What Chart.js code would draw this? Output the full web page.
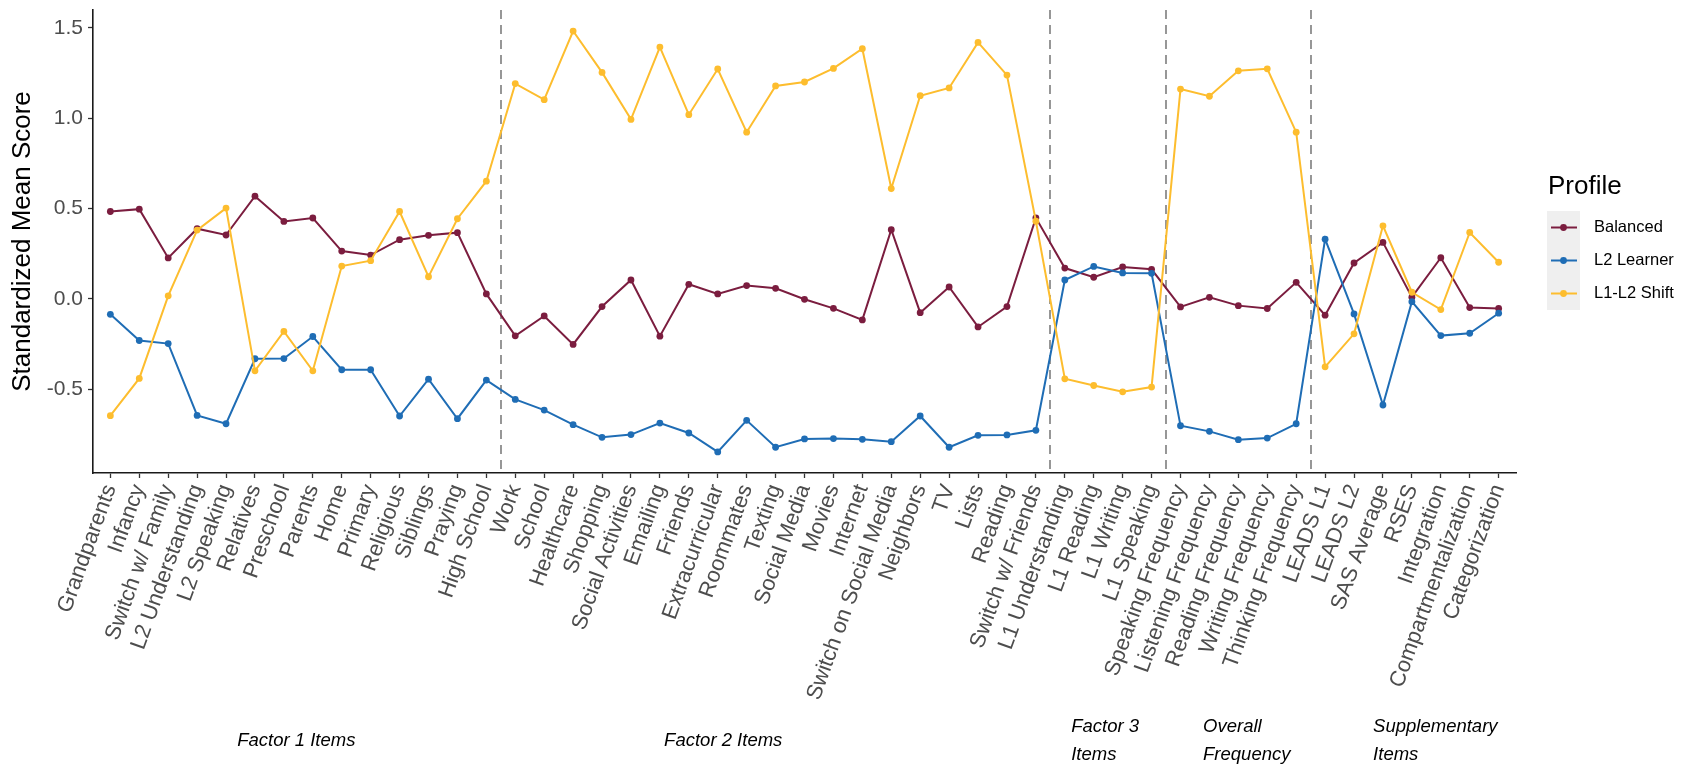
<!DOCTYPE html>
<html lang="en">

<head>
    <meta charset="UTF-8">
    <title>Standardized Mean Score by Profile</title>
    <style>
        body {
            margin: 0;
            background: #fff;
        }

        #wrap {
            width: 1684px;
            height: 769px;
        }
    </style>
</head>

<body>
    <div id="wrap">
        <canvas id="profileChart" width="1684" height="769"></canvas>
    </div>

    <script src="https://cdn.jsdelivr.net/npm/chart.js"></script>
    <script>
        // Item names, in plotting order
        const categories = [
            'Grandparents', 'Infancy', 'Switch w/ Family', 'L2 Understanding', 'L2 Speaking', 'Relatives',
            'Preschool', 'Parents', 'Home', 'Primary', 'Religious', 'Siblings', 'Praying', 'High School',
            'Work', 'School', 'Healthcare', 'Shopping', 'Social Activities', 'Emailing', 'Friends',
            'Extracurricular', 'Roommates', 'Texting', 'Social Media', 'Movies', 'Internet',
            'Switch on Social Media', 'Neighbors', 'TV', 'Lists', 'Reading', 'Switch w/ Friends',
            'L1 Understanding', 'L1 Reading', 'L1 Writing', 'L1 Speaking',
            'Speaking Frequency', 'Listening Frequency', 'Reading Frequency', 'Writing Frequency', 'Thinking Frequency',
            'LEADS L1', 'LEADS L2', 'SAS Average', 'RSES', 'Integration', 'Compartmentalization', 'Categorization'
        ];

        // Standardized mean scores per profile
        const balanced = [
            0.484, 0.497, 0.227, 0.389, 0.354, 0.569, 0.429, 0.448, 0.265, 0.243, 0.328, 0.352, 0.367, 0.028,
            -0.204, -0.094, -0.252, -0.042, 0.105, -0.206, 0.081, 0.028, 0.074, 0.059, -0.002, -0.052, -0.116,
            0.383, -0.076, 0.066, -0.155, -0.042, 0.449,
            0.171, 0.120, 0.177, 0.164,
            -0.044, 0.009, -0.037, -0.053, 0.092,
            -0.090, 0.199, 0.313, 0.010, 0.228, -0.048, -0.053
        ];
        const l2Learner = [
            -0.085, -0.230, -0.247, -0.645, -0.691, -0.331, -0.330, -0.208, -0.392, -0.392, -0.648, -0.444, -0.663, -0.449,
            -0.556, -0.615, -0.696, -0.766, -0.751, -0.687, -0.742, -0.847, -0.672, -0.821, -0.775, -0.773, -0.777,
            -0.790, -0.648, -0.821, -0.755, -0.753, -0.727,
            0.105, 0.180, 0.144, 0.142,
            -0.702, -0.733, -0.779, -0.770, -0.691,
            0.331, -0.083, -0.587, -0.015, -0.203, -0.190, -0.079
        ];
        const l1l2Shift = [
            -0.646, -0.440, 0.017, 0.381, 0.503, -0.398, -0.180, -0.398, 0.182, 0.212, 0.484, 0.123, 0.444, 0.652,
            1.192, 1.103, 1.483, 1.254, 0.994, 1.394, 1.020, 1.273, 0.923, 1.179, 1.201, 1.276, 1.385,
            0.611, 1.125, 1.168, 1.420, 1.239, 0.430,
            -0.442, -0.479, -0.514, -0.488,
            1.162, 1.122, 1.263, 1.274, 0.923,
            -0.376, -0.193, 0.405, 0.037, -0.059, 0.368, 0.203
        ];

        // Y axis ticks
        const yTicks = [-0.5, 0, 0.5, 1.0, 1.5];

        // Item groups: how many items each one holds and its caption lines
        const groupSizes = [14, 19, 4, 5, 7];
        const groupNames = [
            ['Factor 1 Items'],
            ['Factor 2 Items'],
            ['Factor 3', 'Items'],
            ['Overall', 'Frequency'],
            ['Supplementary', 'Items']
        ];

        const FONT = "'Liberation Sans', Arial, Helvetica, sans-serif";

        const toPoints = arr => arr.map((v, i) => ({ x: i, y: v }));

        function makeSeries(label, values, color, order) {
            return {
                label: label,
                data: toPoints(values),
                borderColor: color,
                backgroundColor: color,
                pointBackgroundColor: color,
                pointBorderColor: color,
                borderWidth: 2,
                pointRadius: 3.4,
                pointBorderWidth: 0,
                tension: 0,
                order: order
            };
        }

        // dashed separators, group captions under the axis and the legend
        const groupPlugin = {
            id: 'groupPlugin',
            beforeDatasetsDraw(chart) {
                const { ctx, chartArea, scales: { x } } = chart;
                ctx.save();
                ctx.strokeStyle = '#6b6b6b';
                ctx.lineWidth = 1.4;
                ctx.setLineDash([9, 6]);
                let idx = 0;
                groupSizes.slice(0, -1).forEach(n => {
                    idx += n;
                    const px = Math.round(x.getPixelForValue(idx - 0.5));
                    ctx.beginPath();
                    ctx.moveTo(px, chartArea.top);
                    ctx.lineTo(px, chartArea.bottom);
                    ctx.stroke();
                });
                ctx.restore();
            },
            afterDraw(chart, args, opts) {
                const { ctx, scales: { x } } = chart;
                ctx.save();

                // group captions
                ctx.fillStyle = '#000';
                ctx.font = 'italic 18.5px ' + FONT;
                ctx.textBaseline = 'middle';
                groupNames.forEach((lines, g) => {
                    const place = opts.captions[g];
                    const px = x.getPixelForValue(place.at);
                    ctx.textAlign = place.align;
                    if (lines.length === 1) {
                        ctx.fillText(lines[0], px, opts.captionY);
                    } else {
                        lines.forEach((t, k) => ctx.fillText(t, px, opts.captionY - 14 + k * 28));
                    }
                });

                // legend
                const lg = opts.legend;
                ctx.textAlign = 'left';
                ctx.font = '26px ' + FONT;
                ctx.fillText('Profile', lg.x + 1, lg.titleY);
                ctx.fillStyle = '#efefef';
                ctx.fillRect(lg.x, lg.top, lg.keyW, lg.rowH * chart.data.datasets.length);
                chart.data.datasets.forEach((ds, i) => {
                    const cy = lg.top + lg.rowH * (i + 0.5);
                    ctx.strokeStyle = ds.borderColor;
                    ctx.lineWidth = 2;
                    ctx.beginPath();
                    ctx.moveTo(lg.x + 4, cy);
                    ctx.lineTo(lg.x + lg.keyW - 3, cy);
                    ctx.stroke();
                    ctx.fillStyle = ds.borderColor;
                    ctx.beginPath();
                    ctx.arc(lg.x + lg.keyW / 2, cy, 3.4, 0, Math.PI * 2);
                    ctx.fill();
                    ctx.fillStyle = '#000';
                    ctx.font = '16.5px ' + FONT;
                    ctx.fillText(ds.label, lg.x + lg.keyW + 14, cy);
                });
                ctx.restore();
            }
        };

        const ctx = document.getElementById('profileChart').getContext('2d');
        const profileChart = new Chart(ctx, {
            type: 'line',
            data: {
                datasets: [
                    makeSeries('Balanced', balanced, '#7b1d3f', 2),
                    makeSeries('L2 Learner', l2Learner, '#1f6db5', 1),
                    makeSeries('L1-L2 Shift', l1l2Shift, '#fdbd2e', 0)
                ]
            },
            plugins: [groupPlugin],
            options: {
                responsive: false,
                animation: false,
                layout: {
                    padding: { left: 0, top: 10, right: 168, bottom: 0 }
                },
                scales: {
                    x: {
                        type: 'linear',
                        min: -0.6,
                        max: categories.length - 0.4,
                        afterBuildTicks: scale => {
                            scale.ticks = categories.map((_, i) => ({ value: i }));
                        },
                        afterFit: scale => {
                            scale.height = 296;
                            scale.paddingLeft = 0;
                            scale.paddingRight = 0;
                        },
                        border: { color: '#1a1a1a', width: 1.6 },
                        grid: { drawOnChartArea: false, tickLength: 5, color: '#333', tickWidth: 1.3 },
                        ticks: {
                            autoSkip: false,
                            minRotation: 70,
                            maxRotation: 70,
                            padding: 3,
                            color: '#4d4d4d',
                            font: { family: FONT, size: 22 },
                            callback: v => categories[v]
                        }
                    },
                    y: {
                        min: -0.9635,
                        max: 1.5995,
                        afterBuildTicks: scale => {
                            scale.ticks = yTicks.map(v => ({ value: v }));
                        },
                        afterFit: scale => {
                            scale.width = 93;
                            scale.paddingTop = 0;
                            scale.paddingBottom = 0;
                        },
                        border: { color: '#1a1a1a', width: 1.6 },
                        grid: { drawOnChartArea: false, tickLength: 5, color: '#333', tickWidth: 1.3 },
                        ticks: {
                            padding: 5,
                            color: '#4d4d4d',
                            font: { family: FONT, size: 21 },
                            callback: v => v.toFixed(1)
                        },
                        title: {
                            display: true,
                            text: 'Standardized Mean Score',
                            color: '#000',
                            font: { family: FONT, size: 26 },
                            padding: { top: 7, bottom: 0 }
                        }
                    }
                },
                plugins: {
                    legend: { display: false },
                    tooltip: { enabled: false },
                    groupPlugin: {
                        captionY: 741,
                        captions: [
                            { at: 6.43, align: 'center' },
                            { at: 21.19, align: 'center' },
                            { at: 33.22, align: 'left' },
                            { at: 37.78, align: 'left' },
                            { at: 43.66, align: 'left' }
                        ],
                        legend: { x: 1547, top: 211, keyW: 33, rowH: 33, titleY: 187 }
                    }
                }
            }
        });
    </script>
</body>

</html>
